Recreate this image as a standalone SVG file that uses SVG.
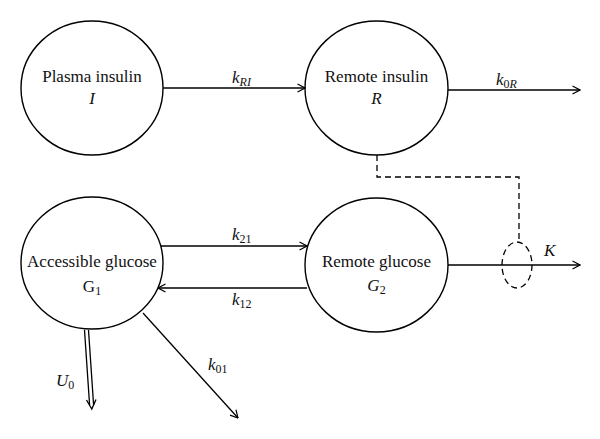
<svg xmlns="http://www.w3.org/2000/svg" width="600" height="439" viewBox="0 0 600 439" font-family="'Liberation Serif', 'DejaVu Serif', serif">
<defs>
<marker id="arr" viewBox="0 0 10 10" refX="9.5" refY="5" markerWidth="10" markerHeight="10" markerUnits="userSpaceOnUse" orient="auto">
<path d="M2,1 L9.5,5 L2,9" fill="none" stroke="#000" stroke-width="1.2"/>
</marker>
</defs>
<style>
.node{fill:#fff;stroke:#000;stroke-width:1.4}
.ln{fill:none;stroke:#000;stroke-width:1.3}
.dash{fill:none;stroke:#000;stroke-width:1.3;stroke-dasharray:6,4}
text{font-family:'Liberation Serif','DejaVu Serif',serif;font-size:17px;fill:#111}
.c{text-anchor:middle}
.i{font-style:italic}
.sub{font-size:12px}
</style>
<rect width="600" height="439" fill="#fff"/>
<g id="plasma-insulin">
<ellipse class="node" cx="92" cy="88" rx="71" ry="67"/>
<text class="c" x="92" y="82">Plasma insulin</text>
<text class="c i" x="92" y="104">I</text>
</g>
<g id="remote-insulin">
<ellipse class="node" cx="376.5" cy="88" rx="71.5" ry="67"/>
<text class="c" x="376.5" y="82">Remote insulin</text>
<text class="c i" x="376.5" y="104">R</text>
</g>
<g id="accessible-glucose">
<ellipse class="node" cx="92" cy="263" rx="71" ry="66"/>
<text class="c" x="92" y="267">Accessible glucose</text>
<text class="c" x="92" y="292">G<tspan class="sub" dy="3">1</tspan></text>
</g>
<g id="remote-glucose">
<ellipse class="node" cx="376.5" cy="265" rx="71.5" ry="67"/>
<text class="c" x="376.5" y="267">Remote glucose</text>
<text class="c" x="376.5" y="291"><tspan class="i">G</tspan><tspan class="sub" dy="3">2</tspan></text>
</g>
<g id="connectors">
<line class="ln" x1="163" y1="88" x2="305" y2="88" marker-end="url(#arr)"/>
<line class="ln" x1="448" y1="90" x2="580" y2="90" marker-end="url(#arr)"/>
<line class="ln" x1="161" y1="246" x2="307" y2="246" marker-end="url(#arr)"/>
<line class="ln" x1="307" y1="288" x2="158" y2="288" marker-end="url(#arr)"/>
<line class="ln" x1="143" y1="313" x2="238" y2="418" marker-end="url(#arr)"/>
<line class="ln" x1="448" y1="265" x2="580" y2="265" marker-end="url(#arr)"/>
<path class="ln" d="M84.5,330 L89.6,405 M88.5,330 L93.6,405" stroke-width="1.2"/>
<path class="ln" d="M86.5,400 L91.8,409 L96,399.5" stroke-width="1.2"/>
<path class="dash" d="M377,155 V177 H519 V242"/>
<ellipse class="dash" cx="517" cy="265" rx="15" ry="23" stroke-dasharray="5,4"/>
</g>
<g id="labels">
<text class="i" x="232" y="83">k<tspan class="sub" dy="3">RI</tspan></text>
<text class="i" x="496" y="85">k<tspan class="sub" dy="3" font-style="normal">0</tspan><tspan class="sub" dy="0">R</tspan></text>
<text class="i" x="232" y="240">k<tspan class="sub" dy="3" font-style="normal">21</tspan></text>
<text class="i" x="232" y="305">k<tspan class="sub" dy="3" font-style="normal">12</tspan></text>
<text class="i" x="208" y="370">k<tspan class="sub" dy="3" font-style="normal">01</tspan></text>
<text class="i" x="56" y="386">U<tspan class="sub" dy="3" font-style="normal">0</tspan></text>
<text class="i" x="544" y="256">K</text>
</g>
</svg>
